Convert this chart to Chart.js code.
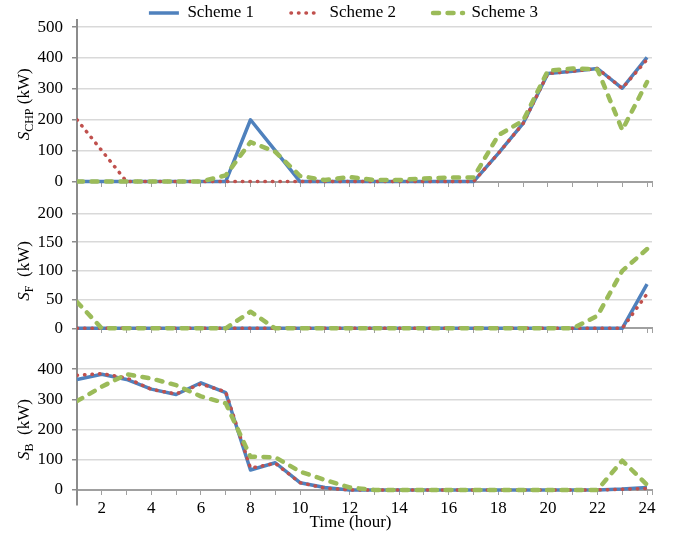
<!DOCTYPE html>
<html>
<head>
<meta charset="utf-8">
<title>S_CHP, S_F and S_B by hour</title>
<script src="https://cdn.jsdelivr.net/npm/chart.js@4.4.1/dist/chart.umd.min.js"></script>
<style>
  body { margin: 0; background: #fff; }
  #wrap { position: relative; width: 674px; height: 533px; }
  canvas { position: absolute; left: 0; }
</style>
</head>
<body>
<div id="wrap">
  <canvas id="chpChart" width="674" height="200" style="top:0px"></canvas>
  <canvas id="fChart" width="674" height="145" style="top:197px"></canvas>
  <canvas id="bChart" width="674" height="194" style="top:339px"></canvas>
</div>
<script>
const hours = [1, 2, 3, 4, 5, 6, 7, 8, 9, 10, 11, 12, 13, 14, 15, 16, 17, 18, 19, 20, 21, 22, 23, 24];
const xTickLabels = [2, 4, 6, 8, 10, 12, 14, 16, 18, 20, 22, 24];
const seriesNames = ["Scheme 1", "Scheme 2", "Scheme 3"];

// S_CHP (kW)
const chpScheme1 = [0, 0, 0, 0, 0, 0, 0, 200, 100, 0, 0, 0, 0, 0, 0, 0, 0, 91, 188, 350, 357, 366, 302, 402];
const chpScheme2 = [200, 100, 0, 0, 0, 0, 0, 0, 0, 0, 0, 0, 0, 0, 0, 0, 0, 91, 188, 350, 357, 366, 302, 395];
const chpScheme3 = [0, 0, 0, 0, 0, 0, 20, 128, 96, 18, 5, 15, 5, 5, 10, 13, 13, 150, 197, 359, 366, 363, 167, 322];
const chpTicks = [0, 100, 200, 300, 400, 500];

// S_F (kW)
const fScheme1 = [0, 0, 0, 0, 0, 0, 0, 0, 0, 0, 0, 0, 0, 0, 0, 0, 0, 0, 0, 0, 0, 0, 0, 77];
const fScheme2 = [0, 0, 0, 0, 0, 0, 0, 0, 0, 0, 0, 0, 0, 0, 0, 0, 0, 0, 0, 0, 0, 0, 0, 60];
const fScheme3 = [46, 0, 0, 0, 0, 0, 0, 29, 0, 0, 0, 0, 0, 0, 0, 0, 0, 0, 0, 0, 0, 22, 100, 138];
const fTicks = [0, 50, 100, 150, 200];

// S_B (kW)
const bScheme1 = [366, 383, 366, 334, 316, 355, 322, 66, 90, 24, 8, 0, 0, 0, 0, 0, 0, 0, 0, 0, 0, 0, 3, 8];
const bScheme2 = [380, 385, 371, 333, 318, 351, 325, 72, 88, 24, 6, 0, 0, 0, 0, 0, 0, 0, 0, 0, 0, 0, 2, 5];
const bScheme3 = [294, 342, 383, 369, 347, 310, 287, 110, 108, 61, 33, 8, 0, 0, 0, 0, 0, 0, 0, 0, 0, 0, 97, 17];
const bTicks = [0, 100, 200, 300, 400];

Chart.defaults.font.family = '"Liberation Serif", "Times New Roman", serif';
Chart.defaults.font.size = 17;
Chart.defaults.color = "#000";

const AXIS_GREY = "#8c8c8c";
const X_AXIS_GREY = "#a0a0a0";
const GRID_GREY = "#d9d9d9";

const toPoints = values => values.map((v, i) => ({ x: hours[i], y: v }));

function buildDatasets(s1, s2, s3) {
  return [
    {
      label: seriesNames[0], data: toPoints(s1),
      borderColor: "#4F81BD", backgroundColor: "#4F81BD",
      borderWidth: 3.5, order: 3
    },
    {
      label: seriesNames[1], data: toPoints(s2),
      borderColor: "#C0504D", backgroundColor: "#C0504D",
      borderWidth: 3.5, borderDash: [0.5, 7], borderCapStyle: "round", order: 2
    },
    {
      label: seriesNames[2], data: toPoints(s3),
      borderColor: "#9BBB59", backgroundColor: "#9BBB59",
      borderWidth: 4.5, borderDash: [6, 8.5], borderCapStyle: "round", order: 1
    }
  ];
}

// legend samples taken straight from the line styles (dash pattern included)
const lineLegendLabels = chart =>
  chart.data.datasets.map((ds, i) => ({
    text: ds.label,
    datasetIndex: i,
    strokeStyle: ds.borderColor,
    fillStyle: ds.borderColor,
    lineWidth: ds.borderWidth,
    lineDash: ds.borderDash || [],
    lineCap: ds.borderCapStyle || "butt",
    pointStyle: "line",
    hidden: false
  }));

// rotated y title with italic S and a subscript, plus the time title on the last panel
const axisTitles = {
  id: "axisTitles",
  afterDraw(chart, args, opts) {
    const ctx = chart.ctx;
    const fam = '"Liberation Serif", "Times New Roman", serif';
    if (opts.main) {
      const cy = chart.scales.y.getPixelForValue(opts.mid);
      ctx.save();
      ctx.translate(29, cy);
      ctx.rotate(-Math.PI / 2);
      ctx.fillStyle = "#000";
      ctx.textAlign = "left";
      ctx.textBaseline = "alphabetic";
      const parts = [
        { t: opts.main, f: "italic 17px " + fam, dy: 0 },
        { t: opts.sub, f: "12px " + fam, dy: 4 },
        { t: opts.rest, f: "17px " + fam, dy: 0 }
      ];
      let total = 0;
      parts.forEach(p => { ctx.font = p.f; p.w = ctx.measureText(p.t).width; total += p.w; });
      let x = -total / 2;
      parts.forEach(p => { ctx.font = p.f; ctx.fillText(p.t, x, p.dy); x += p.w; });
      ctx.restore();
    }
    if (opts.xTitle) {
      ctx.save();
      ctx.fillStyle = "#000";
      ctx.font = "17px " + fam;
      ctx.textAlign = "center";
      ctx.textBaseline = "middle";
      ctx.fillText(opts.xTitle, 350.5, 183.5);
      ctx.restore();
    }
  }
};

function makePanel(canvasId, cfg) {
  return new Chart(document.getElementById(canvasId), {
    type: "line",
    data: { datasets: buildDatasets(cfg.s1, cfg.s2, cfg.s3) },
    options: {
      responsive: false,
      animation: false,
      layout: { padding: cfg.padding },
      elements: { point: { radius: 0 }, line: { tension: 0, fill: false, borderJoinStyle: "round" } },
      plugins: {
        tooltip: { enabled: false },
        legend: cfg.legend
          ? {
              display: true,
              position: "top",
              maxHeight: 52.5,
              labels: {
                usePointStyle: true,
                pointStyle: "line",
                pointStyleWidth: 30,
                padding: 37,
                color: "#000",
                font: { size: 17 },
                generateLabels: lineLegendLabels
              }
            }
          : { display: false },
        axisTitles: cfg.titles
      },
      scales: {
        x: {
          type: "linear",
          min: 1,
          max: 24.2,
          position: { y: 0 },
          afterBuildTicks: scale => {
            scale.ticks = hours.concat([24.2]).map(v => ({ value: v }));
          },
          afterFit: scale => {
            scale.height = 0;
            scale.paddingLeft = 0;
            scale.paddingRight = 0;
          },
          grid: { drawOnChartArea: false, tickLength: 4, tickColor: X_AXIS_GREY, tickWidth: 1 },
          border: { color: X_AXIS_GREY, width: 2 },
          ticks: {
            display: cfg.showX,
            padding: 4,
            autoSkip: false,
            maxRotation: 0,
            callback: v => (xTickLabels.includes(v) ? String(v) : "")
          }
        },
        y: {
          min: cfg.min,
          max: cfg.max,
          afterBuildTicks: scale => {
            scale.ticks = cfg.ticks.map(v => ({ value: v }));
          },
          afterFit: scale => {
            scale.width = 42;
            scale.paddingTop = 0;
            scale.paddingBottom = 0;
          },
          grid: {
            color: c => (c.tick && c.tick.value === 0 ? "rgba(0,0,0,0)" : GRID_GREY),
            lineWidth: 1.5,
            tickLength: 5,
            tickColor: AXIS_GREY
          },
          border: { color: AXIS_GREY, width: 2 },
          ticks: { padding: 9 }
        }
      }
    },
    plugins: [axisTitles]
  });
}

makePanel("chpChart", {
  s1: chpScheme1, s2: chpScheme2, s3: chpScheme3,
  ticks: chpTicks, min: -50, max: 523,
  padding: { top: -32.5, bottom: 3, left: 35, right: 22 },
  legend: true, showX: false,
  titles: { main: "S", sub: "CHP", rest: " (kW)", mid: 250 }
});

makePanel("fChart", {
  s1: fScheme1, s2: fScheme2, s3: fScheme3,
  ticks: fTicks, min: -18.5, max: 228.5,
  padding: { top: 0, bottom: 3, left: 35, right: 22 },
  legend: false, showX: false,
  titles: { main: "S", sub: "F", rest: "  (kW)", mid: 100 }
});

makePanel("bChart", {
  s1: bScheme1, s2: bScheme2, s3: bScheme3,
  ticks: bTicks, min: -50, max: 500,
  padding: { top: 0, bottom: 28, left: 35, right: 22 },
  legend: false, showX: true,
  titles: { main: "S", sub: "B", rest: "  (kW)", mid: 200, xTitle: "Time (hour)" }
});
</script>
</body>
</html>
